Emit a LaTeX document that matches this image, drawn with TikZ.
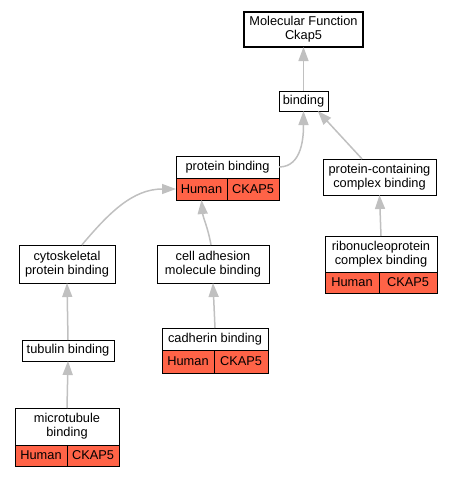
\documentclass[tikz,border=0pt]{standalone}
\usepackage{fontspec}
\setmainfont{Liberation Sans}
\usetikzlibrary{arrows.meta}
\definecolor{edgegray}{RGB}{192,192,192}
\definecolor{hcell}{RGB}{255,99,71}
\begin{document}
\begin{tikzpicture}[x=1pt,y=-1pt,
  every node/.style={font=\fontsize{12.8}{14}\selectfont, inner sep=0pt, outer sep=0pt},
  box/.style={draw=black, line width=1pt, fill=white, align=center, anchor=north west},
  cell/.style={draw=black, line width=1pt, fill=hcell},
  link/.style={draw=edgegray, line width=1.5pt, -{Triangle[length=14pt,width=10pt]}}]
\useasboundingbox (0,0) rectangle (452,477);

% nodes
\node[box, line width=1.2pt, minimum width=119, minimum height=35] (mf) at (244,12) {Molecular Function\\Ckap5};
\node[box, minimum width=49, minimum height=20] (bind) at (279,91) {binding};

\node[box, minimum width=103, minimum height=22] (pb) at (176,156) {protein binding};
\node[cell, anchor=north west, minimum width=51, minimum height=22] (pbh) at (pb.south west) {Human};
\node[cell, anchor=north east, minimum width=52, minimum height=22] (pbc) at (pb.south east) {CKAP5};

\node[box, minimum width=113, minimum height=36] (pcb) at (323,159) {protein-containing\\complex binding};

\node[box, minimum width=112, minimum height=36] (rnp) at (325,236) {ribonucleoprotein\\complex binding};
\node[cell, anchor=north west, minimum width=54, minimum height=21] (rnph) at (rnp.south west) {Human};
\node[cell, anchor=north east, minimum width=58, minimum height=21] (rnpc) at (rnp.south east) {CKAP5};

\node[box, minimum width=96, minimum height=38] (cyto) at (19,245) {cytoskeletal\\protein binding};
\node[box, minimum width=112, minimum height=38] (cam) at (157,245) {cell adhesion\\molecule binding};

\node[box, minimum width=92, minimum height=21] (tub) at (22,340) {tubulin binding};

\node[box, minimum width=106, minimum height=22] (cad) at (162,328) {cadherin binding};
\node[cell, anchor=north west, minimum width=52, minimum height=23] (cadh) at (cad.south west) {Human};
\node[cell, anchor=north east, minimum width=54, minimum height=23] (cadc) at (cad.south east) {CKAP5};

\node[box, minimum width=104, minimum height=37] (mt) at (15,408) {microtubule\\binding};
\node[cell, anchor=north west, minimum width=52, minimum height=21] (mth) at (mt.south west) {Human};
\node[cell, anchor=north east, minimum width=52, minimum height=21] (mtc) at (mt.south east) {CKAP5};

% edges
\draw[link] (bind.north) -- (mf.south);
\draw[link] (pb.east) to[out=0,in=-90] (bind.south);
\draw[link] (pcb.134) -- (bind.-35);
\draw[link] (rnp.north) -- (pcb.south);
\draw[link] (cyto.52) to[out=50,in=180] (pbh.west);
\draw[link] (cam.96) to[out=100,in=-85] (pbh.south);
\draw[link] (tub.north) -- (cyto.south);
\draw[link] (cad.north) -- (cam.south);
\draw[link] (mt.north) -- (tub.south);
\end{tikzpicture}
\end{document}
